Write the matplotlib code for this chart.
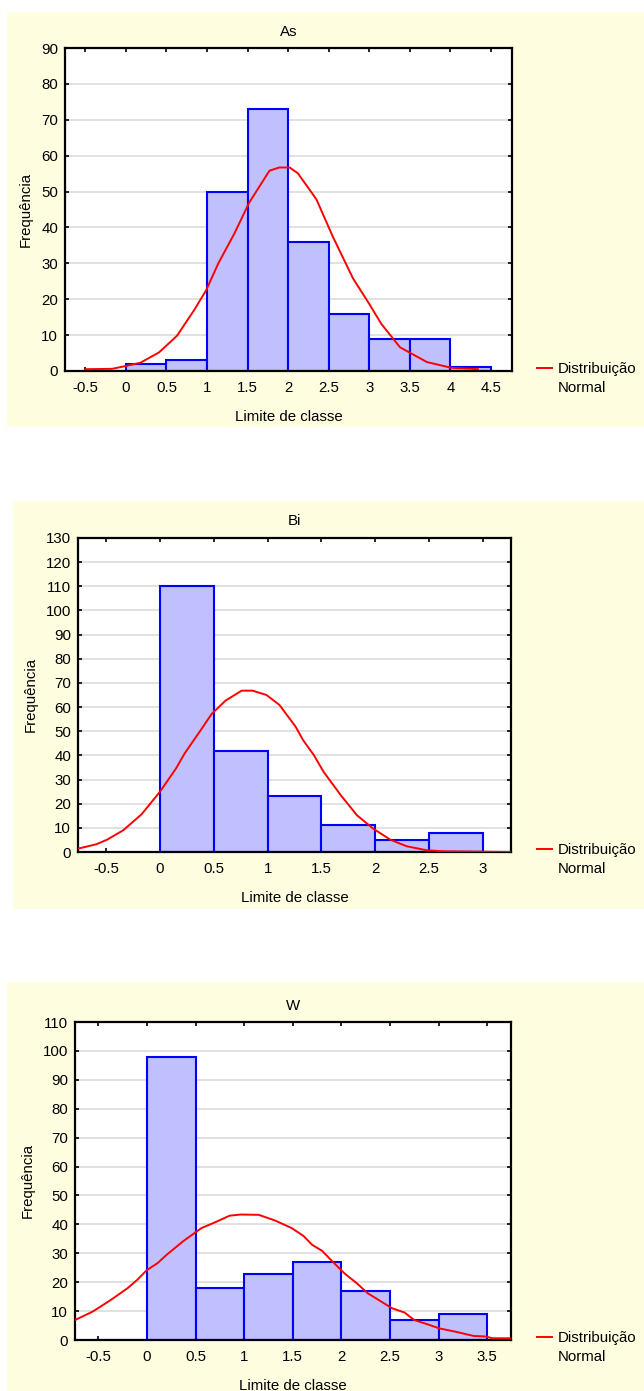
import matplotlib.pyplot as plt
from matplotlib.patches import Rectangle
import numpy as np

plt.rcParams['font.family'] = ['Liberation Sans', 'DejaVu Sans']

# class limits and counts per element
as_edges = [-0.5, 0, 0.5, 1, 1.5, 2, 2.5, 3, 3.5, 4, 4.5]
as_counts = [0, 2, 3, 50, 73, 36, 16, 9, 9, 1]
bi_edges = [0, 0.5, 1, 1.5, 2, 2.5, 3]
bi_counts = [110, 42, 23, 11, 5, 8]
w_edges = [-0.5, 0, 0.5, 1, 1.5, 2, 2.5, 3, 3.5]
w_counts = [0, 98, 18, 23, 27, 17, 7, 9]

# fitted normal curves (read points)
as_curve_x = [-0.5, -0.17, 0, 0.18, 0.41, 0.63, 0.84, 0.99, 1.14, 1.34, 1.52, 1.77,
              1.89, 2.02, 2.12, 2.35, 2.55, 2.80, 3.00, 3.15, 3.38, 3.71, 4.01, 4.34]
as_curve_y = [0.5, 0.6, 1.4, 2.3, 5.2, 9.8, 16.9, 22.5, 30, 38.4, 46.9, 55.8,
              56.7, 56.7, 55.1, 47.8, 37.5, 25.8, 18.7, 13.1, 6.6, 2.5, 0.9, 0.5]
bi_curve_x = [-0.76, -0.59, -0.49, -0.34, -0.17, 0, 0.15, 0.23, 0.38, 0.48, 0.61, 0.76,
              0.86, 0.99, 1.11, 1.26, 1.33, 1.43, 1.52, 1.68, 1.83, 1.98, 2.14, 2.29,
              2.48, 2.63, 3.26]
bi_curve_y = [1.4, 3.2, 5.1, 9, 15.6, 24.9, 34.6, 40.8, 50.5, 57.1, 62.7, 66.8,
              66.8, 65, 60.9, 51.9, 46.3, 40.1, 33.2, 23.5, 15.2, 9.7, 5.1, 2.4,
              0.7, 0.3, 0]
w_curve_x = [-0.74, -0.56, -0.48, -0.37, -0.20, -0.10, 0, 0.11, 0.20, 0.37, 0.56, 0.72,
             0.85, 0.96, 1.15, 1.32, 1.49, 1.61, 1.70, 1.80, 1.91, 2.03, 2.16, 2.27,
             2.41, 2.52, 2.65, 2.75, 2.88, 3.01, 3.17, 3.36, 3.49, 3.55, 3.745]
w_curve_y = [6.9, 9.8, 11.5, 13.9, 17.9, 20.8, 24.2, 26.6, 29.4, 34.1, 38.7, 41.0,
             43.0, 43.4, 43.3, 41.3, 38.7, 36.0, 32.9, 30.9, 27.1, 23.1, 19.6, 16.2,
             13.3, 11.0, 9.5, 6.9, 5.5, 4.0, 2.9, 1.4, 1.2, 0.6, 0.6]

W_PX, H_PX = 644, 1391
CREAM = '#FFFDE0'
BAR_FACE = '#C0C0FF'
BAR_EDGE = '#0000FF'
FS = 10.8

panels = [
    dict(title='As', edges=as_edges, counts=as_counts, cx=as_curve_x, cy=as_curve_y,
         xlim=(-0.75, 4.76), ymax=90, xticks=np.arange(-0.5, 4.51, 0.5),
         bg=(7, 12, 644, 427), ax_px=(65, 48, 512, 371)),
    dict(title='Bi', edges=bi_edges, counts=bi_counts, cx=bi_curve_x, cy=bi_curve_y,
         xlim=(-0.76, 3.26), ymax=130, xticks=np.arange(-0.5, 3.01, 0.5),
         bg=(13, 501, 644, 909), ax_px=(78, 538, 511, 852)),
    dict(title='W', edges=w_edges, counts=w_counts, cx=w_curve_x, cy=w_curve_y,
         xlim=(-0.74, 3.745), ymax=110, xticks=np.arange(-0.5, 3.51, 0.5),
         bg=(7, 982, 644, 1391), ax_px=(75, 1022, 511, 1340)),
]

fig = plt.figure(figsize=(W_PX / 100, H_PX / 100), dpi=100)
fig.patch.set_facecolor('white')


def px_rect(x0, y0, x1, y1):
    # pixel box (top-left origin) -> figure fraction [left, bottom, width, height]
    return [x0 / W_PX, 1 - y1 / H_PX, (x1 - x0) / W_PX, (y1 - y0) / H_PX]


for p in panels:
    l, b, w, h = px_rect(*p['bg'])
    fig.patches.append(Rectangle((l, b), w, h, transform=fig.transFigure,
                                 facecolor=CREAM, edgecolor='none', zorder=-5))

    ax = fig.add_axes(px_rect(*p['ax_px']))
    ax.set_zorder(1)
    ax.set_facecolor('white')
    edges = p['edges']
    ax.bar(edges[:-1], p['counts'], width=np.diff(edges), align='edge',
           facecolor=BAR_FACE, edgecolor=BAR_EDGE, linewidth=1.5, zorder=2)
    ax.plot(p['cx'], p['cy'], color='#FF0000', linewidth=1.4, zorder=3,
            label='Distribuição')

    ax.set_xlim(*p['xlim'])
    ax.set_ylim(0, p['ymax'])
    ax.set_xticks(p['xticks'])
    ax.set_xticklabels([f'{v:g}' for v in p['xticks']])
    ax.set_yticks(np.arange(0, p['ymax'] + 1, 10))
    ax.yaxis.grid(True, color='#DEDEDE', linewidth=1.3, zorder=0)
    ax.set_axisbelow(True)
    ax.tick_params(direction='in', top=True, right=True, length=3, width=1.2,
                   labelsize=FS, colors='black')
    ax.tick_params(axis='x', pad=7)
    ax.tick_params(axis='y', pad=5)
    for s in ax.spines.values():
        s.set_linewidth(1.6)
        s.set_color('black')

    ax.set_title(p['title'], fontsize=FS, pad=9)
    ax.set_xlabel('Limite de classe', fontsize=FS, labelpad=11)
    ax.set_ylabel('Frequência', fontsize=FS, labelpad=6)

    # legend entry sits level with the x axis, second line set underneath
    x_leg = 537 / W_PX
    y_leg = 1 - (p['ax_px'][3] - 2) / H_PX
    ax.legend(loc='center left', bbox_to_anchor=(x_leg, y_leg),
              bbox_transform=fig.transFigure, frameon=False, fontsize=FS,
              handlelength=1.0, handletextpad=0.4, borderpad=0, borderaxespad=0)
    fig.text(558 / W_PX, 1 - (p['ax_px'][3] + 17) / H_PX, 'Normal',
             fontsize=FS, ha='left', va='center')

fig.savefig('out.png', dpi=100, facecolor='white')
